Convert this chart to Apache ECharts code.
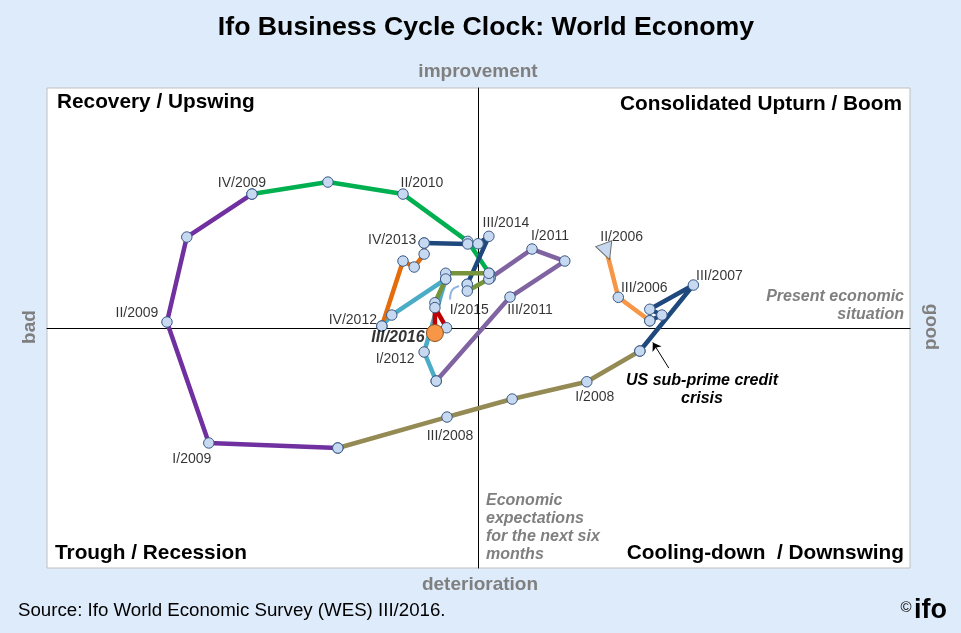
<!DOCTYPE html>
<html>
<head>
<meta charset="utf-8">
<title>Ifo Business Cycle Clock: World Economy</title>
<script src="https://cdn.jsdelivr.net/npm/echarts@6.0.0/dist/echarts.min.js"></script>
<style>
html,body{margin:0;padding:0;background:#DEEBFA;}
.chart{width:961px;height:633px;}
</style>
</head>
<body>
<div class="chart"></div>
<script>
// x = present economic situation, y = expectations for the next six months
var seg2006 = [[29.7, 31.8], [32.4, 12.8], [39.7, 3.0]];
var seg2007 = [[39.7, 3.0], [42.5, 5.4], [39.7, 7.8], [49.8, 17.9], [37.4, -9.6]];
var seg2008 = [[37.4, -9.6], [25.1, -22.4], [7.8, -29.6], [-7.3, -37.1], [-32.6, -50.0]];
var seg2009 = [[-32.6, -50.0], [-62.5, -47.9], [-72.2, 2.5], [-67.6, 37.9], [-52.5, 55.8]];
var seg2010 = [[-52.5, 55.8], [-34.9, 60.8], [-17.5, 55.8], [-2.5, 36.1], [2.5, 22.8]];
var seg2011 = [[2.7, 20.8], [12.4, 32.9], [20.0, 27.9], [7.3, 12.9], [-9.8, -22.1]];
var seg2012 = [[-9.8, -22.1], [-12.6, -10.0], [-7.6, 20.4], [-20.1, 5.4], [-22.4, 0.8]];
var seg2013 = [[-22.4, 0.8], [-17.5, 27.9], [-14.9, 25.4], [-12.6, 30.8], [-12.6, 35.4]];
var seg2014 = [[-12.6, 35.4], [-2.5, 35.0], [-0.1, 35.1], [2.4, 38.2], [-2.6, 18.2]];
var seg2015 = [[-2.6, 18.2], [-2.6, 15.4], [2.4, 20.4], [2.4, 22.8], [-7.6, 22.8], [-7.6, 20.4], [-10.1, 10.5]];
var seg2016 = [[-7.4, 0.1], [-10.1, 8.5], [-10.1, -2.1]];

var quarterNames = ['II/2006', 'III/2006', 'III/2007', 'I/2008', 'III/2008', 'I/2009', 'II/2009', 'IV/2009',
	'II/2010', 'I/2011', 'III/2011', 'I/2012', 'IV/2012', 'IV/2013', 'III/2014', 'I/2015', 'III/2016'];
var quarterPoints = [seg2006[0], seg2006[1], seg2007[3], seg2008[1], seg2008[3], seg2009[1], seg2009[2], seg2009[4],
	seg2010[2], seg2011[1], seg2011[3], seg2012[1], seg2012[4], seg2013[4], seg2014[3], seg2015[1], seg2016[2]];

var pointerArc = [[-6.6, 11.9], [-6.3, 15.2], [-4.5, 17.5]]; // pointer to I/2015
var crisisArrow = [[44.1, -16.7], [40.4, -6.0]]; // US sub-prime credit crisis

(function() {
	var myChart = echarts.init(document.querySelector('.chart'))
	var font = "'Liberation Sans', Arial, sans-serif"
	var segments = [seg2006, seg2007, seg2008, seg2009, seg2010, seg2011, seg2012, seg2013, seg2014, seg2015, seg2016]
	var lineColors = ['#F79646', '#1F497D', '#948A54', '#7030A0', '#00B050', '#8064A2', '#4BACC6', '#E46C0A', '#1F497D', '#77933C', '#C00000']

	// label centre relative to its point, in px
	var labelOffset = {
		'II/2006': [15, -15], 'III/2006': [26, -9], 'III/2007': [26, -9], 'I/2008': [8, 15],
		'III/2008': [3, 19], 'I/2009': [-17, 16], 'II/2009': [-30, -9], 'IV/2009': [-10, -11],
		'II/2010': [19, -11], 'I/2011': [18, -13], 'III/2011': [20, 13], 'I/2012': [-29, 7],
		'IV/2012': [-29, -6], 'IV/2013': [-32, -3], 'III/2014': [17, -13], 'I/2015': [2, 19],
		'III/2016': [-37, 5]
	}

	var series = segments.map(function(seg, i) {
		return {
			type: 'line',
			data: seg,
			symbol: 'none',
			lineStyle: { color: lineColors[i], width: 4.5 },
			z: 2
		}
	})

	// small pointer arc near I/2015
	series.push({
		type: 'line',
		data: pointerArc,
		symbol: 'none',
		smooth: true,
		lineStyle: { color: '#8DB4E2', width: 2 },
		z: 2
	})

	// arrow for the crisis note
	series.push({
		type: 'line',
		data: crisisArrow,
		symbol: 'none',
		lineStyle: { opacity: 0 },
		markLine: {
			silent: true,
			symbol: ['none', 'arrow'],
			symbolSize: 8,
			label: { show: false },
			lineStyle: { color: '#000', width: 1, type: 'solid' },
			data: [[{ coord: crisisArrow[0] }, { coord: crisisArrow[1] }]]
		}
	})

	// all quarter markers on top of the lines
	var allPoints = []
	segments.forEach(function(seg, i) {
		seg.forEach(function(p, j) {
			if (i === 0 && j === 0) return // start triangle
			allPoints.push(p)
		})
	})
	series.push({
		type: 'scatter',
		data: allPoints,
		symbol: 'circle',
		symbolSize: 10.5,
		itemStyle: { color: '#C6D9F1', borderColor: '#3A5A85', borderWidth: 1, opacity: 1 },
		z: 5
	})
	series.push({
		type: 'scatter',
		data: [seg2006[0]],
		symbol: 'triangle',
		symbolSize: 17,
		symbolRotate: 200,
		itemStyle: { color: '#C6D9F1', borderColor: '#6F6F6F', borderWidth: 1, opacity: 1 },
		z: 6
	})
	series.push({
		type: 'scatter',
		data: [seg2016[2]],
		symbol: 'circle',
		symbolSize: 17,
		itemStyle: { color: '#F79646', borderColor: '#8A5024', borderWidth: 1, opacity: 1 },
		z: 7
	})

	// quarter labels
	series.push({
		type: 'scatter',
		symbolSize: 1,
		itemStyle: { color: 'rgba(0,0,0,0)' },
		z: 8,
		label: {
			show: true,
			position: 'inside',
			formatter: '{b}',
			color: '#000',
			fontSize: 14,
			fontFamily: font
		},
		data: quarterNames.map(function(name, i) {
			var item = { name: name, value: quarterPoints[i], label: { offset: labelOffset[name] } }
			if (name === 'III/2016') {
				item.label.fontWeight = 'bold'
				item.label.fontStyle = 'italic'
				item.label.fontSize = 16
			}
			return item
		})
	})

	function txt(x, y, text, fontStr, color, align, extra) {
		var el = {
			type: 'text',
			x: x,
			y: y,
			silent: true,
			style: {
				text: text,
				font: fontStr,
				fill: color,
				align: align || 'left',
				textAlign: align || 'left',
				verticalAlign: 'middle',
				textVerticalAlign: 'middle'
			}
		}
		if (extra) {
			for (var k in extra) el[k] = extra[k]
		}
		return el
	}

	var gray = '#7F7F7F'
	var graphics = [
		txt(486, 28, 'Ifo Business Cycle Clock: World Economy', 'bold 26.7px ' + font, '#000', 'center'),
		txt(478, 72, 'improvement', 'bold 19px ' + font, gray, 'center'),
		txt(480, 585, 'deterioration', 'bold 19px ' + font, gray, 'center'),
		txt(30, 327, 'bad', 'bold 19px ' + font, gray, 'center', { rotation: Math.PI / 2 }),
		txt(931, 327, 'good', 'bold 19px ' + font, gray, 'center', { rotation: -Math.PI / 2 }),
		txt(57, 102, 'Recovery / Upswing', 'bold 20.8px ' + font, '#000', 'left'),
		txt(902, 104, 'Consolidated Upturn / Boom', 'bold 20.8px ' + font, '#000', 'right'),
		txt(55, 553, 'Trough / Recession', 'bold 20.8px ' + font, '#000', 'left'),
		txt(904, 553, 'Cooling-down  / Downswing', 'bold 20.8px ' + font, '#000', 'right'),
		txt(18, 611, 'Source: Ifo World Economic Survey (WES) III/2016.', '18.7px ' + font, '#000', 'left'),
		txt(906, 608, '\u00a9', '15px ' + font, '#000', 'center'),
		txt(914, 611, 'ifo', 'bold 27px ' + font, '#000', 'left')
	]
	var presentLines = ['Present economic', 'situation']
	presentLines.forEach(function(s, i) {
		graphics.push(txt(904, 297 + i * 18, s, 'italic bold 16px ' + font, gray, 'right'))
	})
	var expectLines = ['Economic', 'expectations', 'for the next six', 'months']
	expectLines.forEach(function(s, i) {
		graphics.push(txt(486, 501 + i * 18, s, 'italic bold 16px ' + font, gray, 'left'))
	})
	var crisisLines = ['US sub-prime credit', 'crisis']
	crisisLines.forEach(function(s, i) {
		graphics.push(txt(702, 381 + i * 18, s, 'italic bold 16px ' + font, '#000', 'center'))
	})

	let option = {
		backgroundColor: '#DEEBFA',
		animation: false,
		grid: {
			show: true,
			left: 47,
			right: 51,
			top: 88,
			bottom: 65,
			backgroundColor: '#fff',
			borderColor: '#BFBFBF',
			borderWidth: 1
		},
		xAxis: {
			type: 'value',
			min: -100,
			max: 100,
			axisLine: { show: true, onZero: true, lineStyle: { color: '#000', width: 1 } },
			axisTick: { show: false },
			axisLabel: { show: false },
			splitLine: { show: false }
		},
		yAxis: {
			type: 'value',
			min: -100,
			max: 100,
			axisLine: { show: true, onZero: true, lineStyle: { color: '#000', width: 1 } },
			axisTick: { show: false },
			axisLabel: { show: false },
			splitLine: { show: false }
		},
		graphic: graphics,
		series: series
	};
	myChart.setOption(option);
	window.addEventListener("resize", function() {
		myChart.resize();
	})
})();
</script>
</body>
</html>
